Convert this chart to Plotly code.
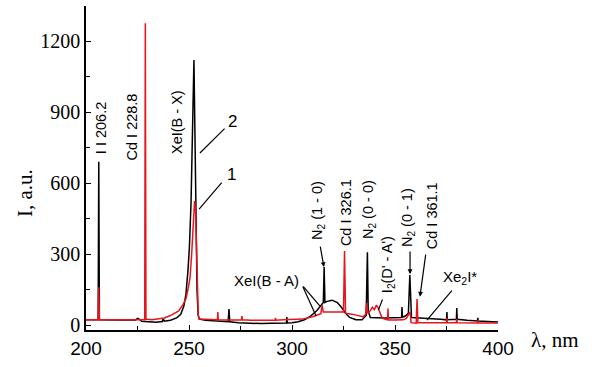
import plotly.graph_objects as go

# Curve 2 (black)
wl_black = [200, 205.9, 206.2, 206.5, 215, 224, 225, 226, 227, 230, 234, 237, 237.5, 238, 241, 244, 246,
            247.5, 248.5, 249.5, 250.2, 251, 251.8, 252.4, 252.9, 253.4, 253.9, 254.4, 255, 258, 262, 265,
            269, 269.4, 269.8, 274, 280, 285, 290, 294, 297.3, 297.5, 297.7, 300, 303, 306, 309, 312, 314,
            315.2, 315.6, 316, 317, 319.5, 322, 324, 326, 328, 331, 334, 336, 336.6, 337, 338, 345, 350,
            353.2, 353.4, 353.6, 355, 356.5, 357.2, 357.6, 358, 362, 368, 372, 375, 375.2, 375.4, 379.8,
            380, 380.2, 385, 390, 390.2, 390.4, 395, 400]
int_black = [22, 22, 690, 22, 21, 21, 28, 24, 16, 13, 12, 15, 28, 16, 20, 30, 45,
             80, 130, 230, 330, 520, 850, 1120, 800, 420, 150, 45, 25, 20, 18, 16,
             14, 68, 14, 10, 7, 6, 7, 8, 9, 34, 9, 10, 14, 22, 38, 60, 80,
             95, 245, 95, 100, 105, 95, 75, 50, 32, 22, 22, 40, 308, 60, 32, 30, 30,
             32, 76, 33, 38, 50, 211, 60, 32, 30, 28, 24, 22, 55, 22, 24,
             72, 24, 20, 17, 30, 17, 15, 13]

# Curve 1 (red)
wl_red = [200, 205.9, 206.2, 206.5, 215, 228.5, 228.8, 229.1, 232, 235, 238, 241, 243, 245, 247, 248.5,
          249.5, 250.5, 251.3, 252, 252.7, 253.2, 253.7, 254.1, 254.5, 255, 258, 260, 263.8, 264, 264.2,
          268, 272, 275.5, 275.7, 275.9, 280, 285, 291.8, 292, 292.2, 296, 300, 305, 310, 314, 314.6,
          315.2, 318, 322, 325, 325.5, 326, 329, 331.5, 334.5, 335.8, 336.2, 336.6, 338, 339, 340, 341,
          342, 343, 343.8, 345, 346.4, 346.6, 346.8, 350, 354, 355.5, 356.5, 357.3, 357.8, 360.3, 360.7,
          361.1, 365, 370, 375, 375.2, 375.4, 379.8, 380, 380.2, 385, 390, 390.2, 390.4, 395, 400]
int_red = [22, 22, 160, 22, 22, 22, 1275, 25, 22, 25, 30, 40, 50, 60, 85, 110,
           150, 200, 300, 420, 524, 480, 300, 120, 40, 25, 23, 22, 22, 55, 22,
           21, 22, 22, 38, 22, 20, 21, 20, 30, 20, 22, 23, 25, 35, 48, 84,
           55, 55, 56, 55, 313, 50, 46, 42, 35, 45, 93, 50, 60, 75, 65, 84,
           70, 45, 30, 25, 22, 70, 22, 21, 22, 28, 42, 55, 10, 8, 110,
           10, 10, 10, 10, 30, 10, 10, 25, 10, 10, 9, 20, 9, 9, 9]

x_ticks = [200, 250, 300, 350, 400]
y_ticks = [0, 300, 600, 900, 1200]

SANS = "Liberation Sans, Arial, sans-serif"
SERIF = "Liberation Serif, Times New Roman, serif"

fig = go.Figure()
fig.add_trace(go.Scatter(x=wl_black, y=int_black, mode="lines",
                         line=dict(color="black", width=1.5), name="2"))
fig.add_trace(go.Scatter(x=wl_red, y=int_red, mode="lines",
                         line=dict(color="#e8141c", width=1.5), name="1"))

# rotated labels (text, x, y)
rot_labels = [
    ("I I 206.2", 207.3, 832),
    ("Cd I 228.8", 222.1, 837),
    ("XeI(B - X)", 244.2, 858),
    ("N<sub>2</sub> (1 - 0)", 312.6, 486),
    ("Cd I 326.1", 326.2, 477),
    ("N<sub>2</sub> (0 - 0)", 337.4, 486),
    ("I<sub>2</sub>(D' - A')", 346.6, 253),
    ("N<sub>2</sub> (0 - 1)", 356.3, 456),
    ("Cd I 361.1", 368.0, 460),
]
for t, x, y in rot_labels:
    fig.add_annotation(x=x, y=y, text=t, textangle=-90, showarrow=False,
                       xanchor="center", yanchor="middle",
                       font=dict(family=SANS, size=14.5, color="black"))

flat_labels = [
    ("2", 270.9, 858, 17),
    ("1", 270.4, 634, 17),
    ("XeI(B - A)", 287.4, 190, 15),
    ("Xe<sub>2</sub>I*", 381.6, 199, 15),
]
for t, x, y, s in flat_labels:
    fig.add_annotation(x=x, y=y, text=t, showarrow=False, xanchor="center", yanchor="middle",
                       font=dict(family=SANS, size=s, color="black"))

# pointer lines: (tail x, tail y, head x, head y, arrowhead)
pointers = [
    (268.0, 836, 255.3, 727, 0),
    (266.5, 608, 254.9, 490, 0),
    (304.9, 169, 313.6, 80, 0),
    (304.9, 169, 311.7, 38, 0),
    (313.6, 338, 315.5, 245, 2),
    (344.2, 114, 341.9, 63, 0),
    (357.3, 317, 357.3, 215, 2),
    (365.0, 304, 362.1, 120, 2),
    (378.2, 152, 365.5, 21, 0),
]
for tx, ty, hx, hy, head in pointers:
    fig.add_annotation(x=hx, y=hy, ax=tx, ay=ty, axref="x", ayref="y", text="",
                       showarrow=True, arrowhead=head, arrowsize=0.8, arrowwidth=1.2,
                       arrowcolor="black", standoff=0, startstandoff=0)

fig.add_annotation(xref="paper", yref="paper", x=-0.148, y=0.423, text="I, a.u.",
                   textangle=-90, showarrow=False, xanchor="center", yanchor="middle",
                   font=dict(family=SERIF, size=21, color="black"))
fig.add_annotation(xref="paper", yref="paper", x=1.138, y=-0.031, text="λ, nm",
                   showarrow=False, xanchor="center", yanchor="middle",
                   font=dict(family=SERIF, size=21, color="black"))

fig.update_layout(
    width=598, height=367,
    margin=dict(l=86, r=100, t=6, b=37),
    paper_bgcolor="white", plot_bgcolor="white",
    showlegend=False,
)
fig.update_xaxes(range=[200, 400], tickvals=x_ticks, ticktext=[str(v) for v in x_ticks],
                 ticks="inside", ticklen=5, tickwidth=1.2, tickcolor="black",
                 minor=dict(ticks="inside", dtick=25, ticklen=4, tickcolor="black", tickwidth=1.2),
                 showline=True, linecolor="black", linewidth=1.5, showgrid=False, zeroline=False,
                 tickfont=dict(family=SANS, size=19, color="black"))
fig.update_yaxes(range=[-21, 1348], tickvals=y_ticks, ticktext=[str(v) for v in y_ticks],
                 ticks="inside", ticklen=5, tickwidth=1.2, tickcolor="black",
                 minor=dict(ticks="inside", tick0=0, dtick=150, ticklen=4, tickcolor="black", tickwidth=1.2),
                 showline=True, linecolor="black", linewidth=1.5, showgrid=False, zeroline=False,
                 tickfont=dict(family=SERIF, size=20, color="black"))

fig.write_html("out.html", config={"displayModeBar": False},
               post_script="document.body.style.margin='0px';document.body.style.overflow='hidden';")
